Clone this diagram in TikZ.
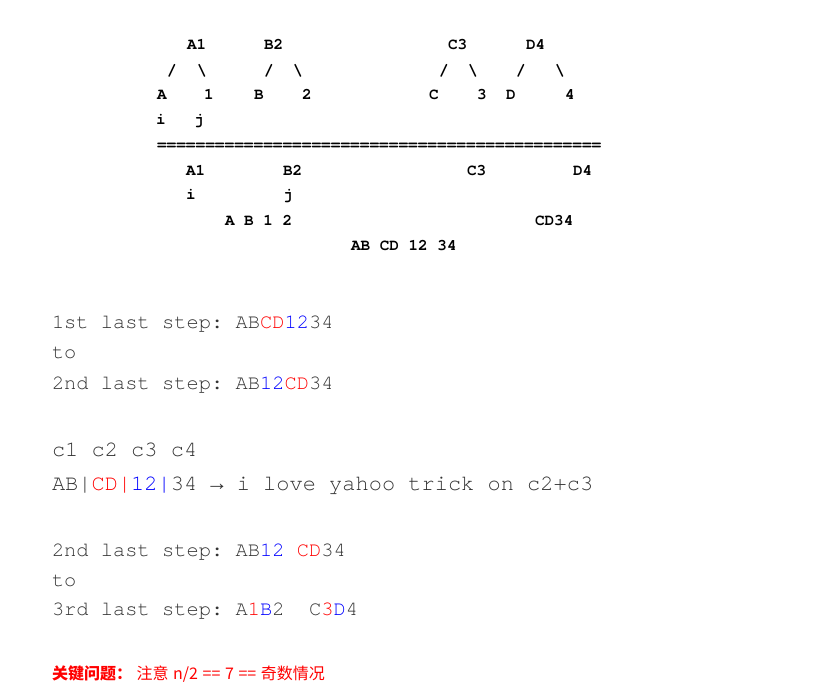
\documentclass[tikz,border=0pt]{standalone}
\usepackage{fontspec}
\newfontfamily\cursor{texgyrecursor}[Extension=.otf,UprightFont=*-regular,BoldFont=*-bold]
\newfontfamily\arrowfont{Liberation Mono}
\newfontfamily\cjk{Noto Sans CJK SC}
\definecolor{tx}{HTML}{333333}
\definecolor{cr}{HTML}{FF0000}
\definecolor{cb}{HTML}{0000FF}
\newcommand\cjkgap{\hspace{4.6bp}}
\frenchspacing
\begin{document}
\begin{tikzpicture}[x=1bp,y=-1bp,
  tok/.style={anchor=base west,inner sep=0pt,outer sep=0pt,font=\fontsize{16bp}{16bp}\selectfont\cursor\bfseries,text=black},
  ln/.style={anchor=base west,inner sep=0pt,outer sep=0pt,font=\fontsize{20.4bp}{20.4bp}\selectfont\cursor,text=tx},
  lnb/.style={anchor=base west,inner sep=0pt,outer sep=0pt,font=\fontsize{22bp}{22bp}\selectfont\cursor,text=tx},
  cn/.style={anchor=base west,inner sep=0pt,outer sep=0pt,font=\fontsize{16bp}{16bp}\selectfont\cjk,text=cr}]
\useasboundingbox[fill=white] (0,0) rectangle (832,692);
% top tree, row 1
\node[tok] (a1) at (187,50) {A1};
\node[tok] (b2) at (264,50) {B2};
\node[tok] (c3) at (448,50) {C3};
\node[tok] (d4) at (526,50) {D4};
% row 2
\node[tok] (s1) at (167,76) {/};
\node[tok] (s2) at (197,76) {\textbackslash};
\node[tok] (s3) at (264,76) {/};
\node[tok] (s4) at (293,76) {\textbackslash};
\node[tok] (s5) at (439,76) {/};
\node[tok] (s6) at (468,76) {\textbackslash};
\node[tok] (s7) at (516,76) {/};
\node[tok] (s8) at (555,76) {\textbackslash};
% row 3
\node[tok] (la) at (157,100) {A};
\node[tok] (l1) at (204,100) {1};
\node[tok] (lb) at (254,100) {B};
\node[tok] (l2) at (302,100) {2};
\node[tok] (lc) at (429,100) {C};
\node[tok] (l3) at (477,100) {3};
\node[tok] (ld) at (506,100) {D};
\node[tok] (l4) at (565,100) {4};
% row 4
\node[tok] (ii) at (156,125) {i};
\node[tok] (jj) at (194,125) {j};
% separator
\node[tok,font=\fontsize{16.1bp}{16bp}\selectfont\cursor\bfseries] (sep) at (157,150) {==============================================};
% lower rows
\node[tok] (a1b) at (186,175) {A1};
\node[tok] (b2b) at (283,175) {B2};
\node[tok] (c3b) at (467,175) {C3};
\node[tok] (d4b) at (573,175) {D4};
\node[tok] (iib) at (186,199) {i};
\node[tok] (jjb) at (283,199) {j};
\node[tok] (ab12) at (225,225) {A B 1 2};
\node[tok] (cd34) at (535,225) {CD34};
\node[tok] (all) at (351,250) {AB CD 12 34};
% text lines
\node[ln] (t1) at (52,328) {1st last step: AB\textcolor{cr}{CD}\textcolor{cb}{12}34};
\node[ln] (t2) at (52,358) {to};
\node[ln] (t3) at (52,389) {2nd last step: AB\textcolor{cb}{12}\textcolor{cr}{CD}34};
\node[lnb] (t4) at (52,456) {c1 c2 c3 c4};
\node[lnb] (t5) at (52,490) {AB|\textcolor{cr}{CD|}\textcolor{cb}{12|}34 {\arrowfont →} i love yahoo trick on c2+c3};
\node[ln] (t6) at (52,556) {2nd last step: AB\textcolor{cb}{12} \textcolor{cr}{CD}34};
\node[ln] (t7) at (52,586) {to};
\node[ln] (t8) at (52,615) {3rd last step: A\textcolor{cr}{1}\textcolor{cb}{B}2\ \ C\textcolor{cr}{3}\textcolor{cb}{D}4};
\node[cn] (t9) at (52,679) {{\bfseries 关键问题：}\cjkgap 注意\cjkgap n/2\cjkgap ==\cjkgap 7\cjkgap ==\cjkgap 奇数情况};
\end{tikzpicture}
\end{document}
